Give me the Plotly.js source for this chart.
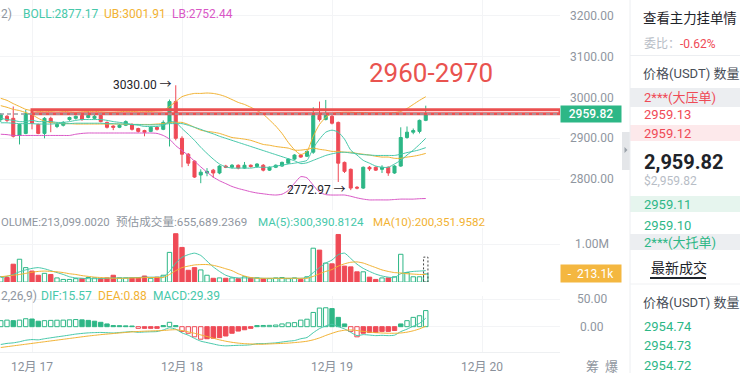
<!DOCTYPE html>
<html><head><meta charset="utf-8">
<script src="https://cdn.plot.ly/plotly-3.0.1.min.js"></script>
<style>html,body{margin:0;padding:0;background:#fff;overflow:hidden}#chart{width:740px;height:373px}</style>
</head><body><div id="chart"></div>
<script>
// ---------- data ----------
const times = [
 '2025-12-16 19:00','2025-12-16 20:00','2025-12-16 21:00','2025-12-16 22:00','2025-12-16 23:00',
 '2025-12-17 00:00','2025-12-17 01:00','2025-12-17 02:00','2025-12-17 03:00','2025-12-17 04:00','2025-12-17 05:00',
 '2025-12-17 06:00','2025-12-17 07:00','2025-12-17 08:00','2025-12-17 09:00','2025-12-17 10:00','2025-12-17 11:00',
 '2025-12-17 12:00','2025-12-17 13:00','2025-12-17 14:00','2025-12-17 15:00','2025-12-17 16:00','2025-12-17 17:00',
 '2025-12-17 18:00','2025-12-17 19:00','2025-12-17 20:00','2025-12-17 21:00','2025-12-17 22:00','2025-12-17 23:00',
 '2025-12-18 00:00','2025-12-18 01:00','2025-12-18 02:00','2025-12-18 03:00','2025-12-18 04:00','2025-12-18 05:00',
 '2025-12-18 06:00','2025-12-18 07:00','2025-12-18 08:00','2025-12-18 09:00','2025-12-18 10:00','2025-12-18 11:00',
 '2025-12-18 12:00','2025-12-18 13:00','2025-12-18 14:00','2025-12-18 15:00','2025-12-18 16:00','2025-12-18 17:00',
 '2025-12-18 18:00','2025-12-18 19:00','2025-12-18 20:00','2025-12-18 21:00','2025-12-18 22:00','2025-12-18 23:00',
 '2025-12-19 00:00','2025-12-19 01:00','2025-12-19 02:00','2025-12-19 03:00','2025-12-19 04:00','2025-12-19 05:00',
 '2025-12-19 06:00','2025-12-19 07:00','2025-12-19 08:00','2025-12-19 09:00','2025-12-19 10:00','2025-12-19 11:00',
 '2025-12-19 12:00','2025-12-19 13:00','2025-12-19 14:00','2025-12-19 15:00'
];
const open = [2946,2954,2949,2907,2912,2961,2934,2912,2949,2929, 2932,2946,2949,2956,2951,2949,2956,2939,2930,2927,
 2932,2934,2924,2919,2917,2927,2922,2939,2990,2900, 2861,2844,2810,2815,2822,2815,2832,2829,2834,2827,
 2834,2831,2834,2822,2829,2832,2839,2849,2859,2856, 2866,2956,2946,2954,2939,2841,2824,2780,2778,2829,
 2829,2824,2829,2815,2832,2902,2915,2917,2944];
const high = [2962,2957,2978,2936,2970,2968,2936,2952,2953,2937, 2942,2953,2956,2959,2968,2957,2959,2941,2932,2935,
 2944,2937,2926,2921,2930,2930,2944,2995,3030,2905, 2864,2846,2824,2827,2825,2834,2835,2837,2836,2842,
 2836,2839,2837,2831,2836,2843,2851,2861,2862,2870, 2976,2990,2994,2958,2941,2843,2826,2783,2831,2832,
 2831,2834,2831,2834,2927,2929,2924,2946,2980];
const low = [2940,2940,2902,2885,2910,2922,2910,2900,2915,2925, 2929,2943,2946,2943,2949,2946,2939,2924,2920,2925,
 2930,2919,2914,2905,2915,2919,2920,2880,2895,2829, 2832,2803,2790,2807,2803,2812,2827,2826,2824,2825,
 2828,2829,2819,2820,2827,2830,2837,2847,2852,2854, 2862,2941,2944,2934,2793,2815,2772.97,2775,2776,2820,
 2820,2815,2808,2813,2830,2899,2910,2912,2942];
const close = [2958,2944,2905,2934,2961,2937,2912,2949,2939,2934, 2939,2951,2954,2946,2956,2954,2941,2927,2927,2932,
 2941,2922,2917,2915,2927,2922,2939,2990,2900,2861, 2839,2805,2817,2819,2815,2832,2829,2834,2827,2834,
 2831,2837,2822,2829,2834,2841,2849,2859,2854,2868, 2956,2946,2956,2937,2839,2819,2778,2778,2829,2825,
 2822,2829,2815,2832,2902,2915,2919,2944,2959.82];

const bollUp = [2998,2993,2985,2978,2971,2968,2966,2965,2966,2967, 2966,2965,2964,2965,2966,2966,2965,2964,2964,2965,
 2966,2966,2965,2965,2966,2967,2968,2978,2990,3002, 3007,3010,3010,3011,3010,3007,3002,2995,2988,2983,
 2976,2968,2959,2945,2930,2912,2890,2872,2860,2868, 2905,2934,2951,2961,2963,2964,2964,2963,2963,2962,
 2962,2962,2962,2963,2966,2973,2983,2993,3001.91];
const bollMid = [2938,2938,2937,2936,2936,2936,2935,2935,2935,2936, 2936,2936,2937,2937,2937,2937,2937,2936,2936,2935,
 2935,2934,2934,2933,2933,2933,2934,2936,2936,2936, 2932,2927,2922,2916,2911,2905,2900,2895,2890,2885,
 2880,2875,2870,2865,2860,2855,2850,2845,2838,2840, 2846,2852,2858,2862,2865,2866,2864,2862,2860,2859,
 2858,2858,2858,2858,2861,2865,2868,2872,2877.17];
const bollLow = [2910,2909,2907,2907,2907,2907,2907,2907,2907,2907, 2907,2907,2910,2912,2913,2913,2913,2913,2913,2913,
 2913,2913,2913,2913,2913,2912,2907,2898,2882,2870, 2858,2844,2830,2817,2805,2796,2789,2782,2777,2773,
 2769,2766,2764,2762,2761,2763,2772,2790,2806,2803, 2785,2768,2762,2761,2761,2761,2758,2754,2751,2749,
 2749,2749,2749,2750,2751,2751,2751,2752,2752.44];
const maFast = [2949,2946,2944,2941,2941,2944,2941,2941,2941,2939, 2939,2941,2944,2946,2946,2946,2946,2944,2941,2939,
 2937,2934,2932,2929,2929,2929,2932,2941,2939,2924, 2910,2895,2878,2863,2849,2837,2830,2827,2827,2827,
 2827,2829,2829,2829,2832,2834,2837,2839,2842,2846, 2876,2898,2915,2920,2915,2898,2871,2859,2846,2839,
 2832,2829,2829,2837,2846,2859,2871,2885,2900];
const maSlow = [2980,2976,2971,2968,2963,2958,2949,2942,2939,2937, 2936,2936,2935,2935,2935,2935,2935,2935,2935,2935,
 2934,2934,2934,2934,2934,2935,2936,2938,2939,2939, 2934,2927,2920,2917,2915,2912,2907,2902,2900,2898,
 2895,2890,2885,2883,2880,2878,2876,2871,2871,2873, 2876,2873,2871,2868,2868,2866,2866,2863,2861,2859,
 2856,2854,2854,2851,2851,2854,2856,2859,2863];

const volume = [140000,120000,470000,600000,380000,290000,180000,230000,200000,110000,
 70000,70000,90000,90000,120000,110000,90000,110000,180000,110000,
 110000,110000,120000,160000,100000,130000,180000,780000,1270000,910000,
 310000,380000,320000,180000,100000,110000,100000,110000,90000,140000,
 110000,110000,90000,90000,110000,120000,90000,110000,70000,140000,
 890000,840000,500000,480000,1250000,420000,400000,270000,270000,130000,
 70000,110000,110000,140000,730000,250000,140000,140000,213099.0020];
const estVolume = 655689.2369;
const volMA5 = [120000,150000,200000,270000,320000,360000,380000,350000,300000,250000,
 200000,140000,110000,100000,90000,90000,90000,100000,110000,110000,
 110000,120000,120000,130000,130000,130000,140000,280000,500000,650000,
 720000,760000,700000,550000,400000,280000,180000,130000,110000,110000,
 110000,110000,100000,100000,100000,100000,100000,100000,100000,120000,
 250000,380000,500000,580000,720000,760000,620000,470000,360000,280000,
 210000,160000,130000,120000,220000,260000,280000,290000,300390.8124];
const volMA10 = [140000,160000,180000,200000,230000,260000,280000,290000,280000,270000,
 250000,220000,200000,170000,150000,130000,120000,110000,100000,100000,
 100000,110000,110000,120000,120000,120000,120000,200000,300000,380000,
 420000,450000,460000,460000,440000,400000,350000,300000,220000,160000,
 120000,100000,100000,100000,100000,100000,100000,100000,100000,100000,
 150000,220000,280000,330000,420000,480000,520000,530000,500000,440000,
 380000,320000,280000,250000,240000,220000,210000,200000,200351.9582];

const macd = [11,12,11,12,14.5,14,10,11,11.5,11.8, 12,12.5,13,12.5,11.5,10,8,5,2,1.8,
 1.5,1.2,-3,-3,-3,-3,2,8,2,-8.6, -12,-18.5,-22.8,-22,-21,-20,-17,-12,-8,-5.6,
 -3,2,2.2,2.4,3,5,7,7.4,12,13.6, 26,34,34.5,33,17,5,-8.6,-18.5,-12,-10.5,
 -10.5,-8.6,-8.6,-7,5,11,17,20,29.39];
const dif = [-32.5,-30.5,-29.5,-27.5,-24.8,-23.5,-24,-22,-20.3,-18.6, -17,-15.3,-13.5,-12.3,-11.3,-10.8,-10.5,-11,-11.5,-10.6,
 -9.8,-8.9,-10.3,-9.7,-9.3,-8.9,-6,-2,-4.5,-11.3, -15.5,-21.3,-26.4,-29,-31.5,-34,-35,-34.5,-34,-33.8,
 -33,-31,-30.9,-30.3,-29.5,-28,-26.5,-25.3,-22,-19.7, -11,-3.5,1.3,4.5,0,-4,-10.3,-16.3,-14.5,-15.3,
 -16.3,-15.8,-16.3,-15.5,-9,-4.5,1,6,15.57];
const dea = [-38,-36.5,-35,-33.5,-32,-30.5,-29,-27.5,-26,-24.5, -23,-21.5,-20,-18.5,-17,-15.8,-14.5,-13.5,-12.5,-11.5,
 -10.5,-9.5,-8.8,-8.2,-7.8,-7.4,-7,-6,-5.5,-7, -9.5,-12,-15,-18,-21,-24,-26.5,-28.5,-30,-31,
 -31.5,-32,-32,-31.5,-31,-30.5,-30,-29,-28,-26.5, -24,-20.5,-16,-12,-8.5,-6.5,-6,-7,-8.5,-10,
 -11,-11.5,-12,-12,-11.5,-10,-7.5,-4,0.88];

const zoneLow = 2960, zoneHigh = 2970, zoneStart = '2025-12-17 00:00';
const priceTicks = [2800,2900,3000,3100,3200];
const volTicks = [1000000], volTickText = ['1.00M'];
const macdTicks = [0,50];
const dayTicks = ['2025-12-17 00:00','2025-12-18 00:00','2025-12-19 00:00','2025-12-20 00:00'];
const dayLabels = ['12月 17','12月 18','12月 19','12月 20'];
const xRange = ['2025-12-16 18:52:48','2025-12-20 12:28:48'];

// order-book panel values
const askRows = ['2959.13','2959.12'];
const bidRows = ['2959.11','2959.10'];
const tradeRows = ['2954.74','2954.73','2954.72'];
const lastPrice = '2,959.82', lastPriceUsd = '$2,959.82', weibi = '-0.62%';

// ---------- style ----------
const FONT = "Roboto, 'Noto Sans CJK SC', sans-serif";
const G='#2db786', R='#ef4a56', TEAL='#46c8aa', ORANGE='#f2b232', PINK='#d957c6', GREY='#8f96a0', DARK='#1e2329';
const GRID='#f3f4f6';
const PW=560, PH=352;
const px = x => x/PW, py = y => 1 - y/PH;
const HOUR = 3600e3, BAR_W = 0.7*HOUR;
const toMs = s => Date.parse(s.replace(' ','T') + (s.length > 16 ? 'Z' : ':00Z'));
const n = close.length;
const isUp = close.map((c,i)=> c >= open[i]);

// ---------- traces ----------
const line = (y, color, ya) => ({type:'scatter', mode:'lines', x:times, y, xaxis:'x', yaxis:ya,
  line:{color, width:1, shape:'spline', smoothing:0.6}, hoverinfo:'skip'});

const traces = [
 {type:'candlestick', x:times, open, high, low, close, xaxis:'x', yaxis:'y', whiskerwidth:0,
  increasing:{line:{color:G,width:1}, fillcolor:G}, decreasing:{line:{color:R,width:1}, fillcolor:R}, hoverinfo:'skip'},
 line(maSlow, ORANGE, 'y'),
 line(bollUp, ORANGE, 'y'),
 line(bollLow, PINK, 'y'),
 line(bollMid, TEAL, 'y'),
 line(maFast, TEAL, 'y'),
 {type:'bar', x:times, y:volume, xaxis:'x', yaxis:'y2', width:BAR_W,
  marker:{color:isUp.map(u=>u?'#ffffff':R), line:{color:isUp.map(u=>u?G:R), width:1}}, hoverinfo:'skip'},
 line(volMA5, TEAL, 'y2'),
 line(volMA10, ORANGE, 'y2'),
 {type:'bar', x:times, y:macd, xaxis:'x', yaxis:'y3', width:BAR_W,
  marker:{color:macd.map((v,i)=>{const hollow = i===0 || Math.abs(v) > Math.abs(macd[i-1]); return hollow ? '#ffffff' : (v>=0?G:R);}),
          line:{color:macd.map(v=>v>=0?G:R), width:1}}, hoverinfo:'skip'},
 line(dif, TEAL, 'y3'),
 line(dea, ORANGE, 'y3')
];

// ---------- annotations ----------
const fmt4 = v => v.toLocaleString('en-US',{minimumFractionDigits:4, maximumFractionDigits:4});
const T = (x, y, text, color, size, extra) => Object.assign({xref:'paper', yref:'paper', x:px(x), y:py(y), text,
  showarrow:false, xanchor:'left', yanchor:'middle', borderpad:0, font:{family:FONT, size, color}}, extra||{});

const ann = [];
// indicator legends
ann.push(T(0,14,'2)',GREY,12));
ann.push(T(22,14,'BOLL:'+bollMid[n-1].toFixed(2),TEAL,12));
ann.push(T(103,14,'UB:'+bollUp[n-1].toFixed(2),ORANGE,12));
ann.push(T(171,14,'LB:'+bollLow[n-1].toFixed(2),PINK,12));
ann.push(T(0,222,'OLUME:'+fmt4(volume[n-1]),GREY,11.3));
ann.push(T(115,222,'预估成交量:'+fmt4(estVolume),GREY,11.6));
ann.push(T(257,222,'MA(5):'+fmt4(volMA5[n-1]),TEAL,11.6));
ann.push(T(372,222,'MA(10):'+fmt4(volMA10[n-1]),ORANGE,11.6));
ann.push(T(0,296,'2,26,9)',GREY,12));
ann.push(T(40,296,'DIF:'+dif[n-1].toFixed(2),TEAL,12));
ann.push(T(97,296,'DEA:'+dea[n-1].toFixed(2),ORANGE,12));
ann.push(T(152,296,'MACD:'+macd[n-1].toFixed(2),TEAL,12));

// high / low markers
const hiV = Math.max(...high), hiI = high.indexOf(hiV);
const loV = Math.min(...low), loI = low.indexOf(loV);
ann.push({xref:'x', yref:'y', x:times[hiI], y:hiV, text:hiV.toFixed(2)+' →', showarrow:false, xanchor:'right', yanchor:'middle', xshift:-2, font:{family:FONT,size:12,color:DARK}});
ann.push({xref:'x', yref:'y', x:times[loI], y:loV, text:loV.toFixed(2)+' →', showarrow:false, xanchor:'right', yanchor:'middle', xshift:-3, font:{family:FONT,size:12,color:DARK}});
// zone label
ann.push(T(431,73,zoneLow+'-'+zoneHigh,'#e9534f',26,{xanchor:'center'}));

// right axis labels
priceTicks.forEach(v=>ann.push({xref:'paper', yref:'y', x:px(592), y:v, text:v.toFixed(2), showarrow:false, xanchor:'center', yanchor:'middle', font:{family:FONT,size:12,color:GREY}}));
volTicks.forEach((v,i)=>ann.push({xref:'paper', yref:'y2', x:px(592), y:v, text:volTickText[i], showarrow:false, xanchor:'center', yanchor:'middle', font:{family:FONT,size:12,color:GREY}}));
macdTicks.forEach(v=>ann.push({xref:'paper', yref:'y3', x:px(592), y:v, text:v.toFixed(2), showarrow:false, xanchor:'center', yanchor:'middle', font:{family:FONT,size:12,color:GREY}}));
// badges
ann.push({xref:'paper', yref:'y', x:1, y:close[n-1], text:close[n-1].toFixed(2), showarrow:false, xanchor:'left', yanchor:'middle',
  width:58, height:14, bgcolor:G, borderpad:1, align:'center', font:{family:FONT,size:12,color:'#fff', weight:500}});
ann.push({xref:'paper', yref:'y2', x:1, y:volume[n-1], text:'-  '+(volume[n-1]/1000).toFixed(1)+'k', showarrow:false, xanchor:'left', yanchor:'middle',
  width:58, height:15, bgcolor:'#f4b740', borderpad:1, align:'center', font:{family:FONT,size:12,color:'#fff'}});
// bottom-right icons
ann.push(T(592,366,'筹',GREY,13,{xanchor:'center'}));
ann.push(T(612,366,'爆',GREY,13,{xanchor:'center'}));

// order-book panel
ann.push(T(642,18,'查看主力挂单情',DARK,13.4));
ann.push(T(643,44,"<span style='color:#b7bdc6'>委比：</span>"+weibi,R,12));
ann.push(T(642,73,'价格(USDT) 数量','#474d57',13));
ann.push(T(643,97,'2***(大压单)',R,13));
ann.push(T(643,114,askRows[0],R,13));
ann.push(T(643,133,askRows[1],R,13));
ann.push(T(643,162,'<b>'+lastPrice+'</b>',DARK,20));
ann.push(T(643,181,lastPriceUsd,'#b7bdc6',12));
ann.push(T(643,204,bidRows[0],G,13));
ann.push(T(643,225,bidRows[1],G,13));
ann.push(T(643,242,'2***(大托单)',G,13));
ann.push(T(650,268,'最新成交',DARK,14));
ann.push(T(642,302,'价格(USDT) 数量','#474d57',13));
tradeRows.forEach((v,i)=>ann.push(T(643,326+i*19.5,v,G,13)));

// ---------- shapes ----------
const P = (x0,y0,x1,y1,fill) => ({type:'rect', xref:'paper', yref:'paper', x0:px(x0), x1:px(x1), y0:py(y1), y1:py(y0), fillcolor:fill, line:{width:0}, layer:'below'});
const L = (x0,y0,x1,y1,color,w) => ({type:'line', xref:'paper', yref:'paper', x0:px(x0), x1:px(x1), y0:py(y0), y1:py(y1), line:{color, width:w||1}});
const lastMs = toMs(times[n-1]);
const shapes = [
 {type:'rect', xref:'x', yref:'y', x0:zoneStart, x1:xRange[1], y0:zoneLow, y1:zoneHigh, line:{color:'#eb5050', width:3}},
 {type:'line', xref:'paper', yref:'y', x0:0, x1:1, y0:close[n-1], y1:close[n-1], line:{color:'#9aa0a8', width:1.5, dash:'4px,3px'}},
 {type:'rect', xref:'x', yref:'y2', x0:lastMs-BAR_W/2, x1:lastMs+BAR_W/2, y0:0, y1:estVolume, line:{color:'#444', width:1, dash:'2px,2px'}},
 // panel
 L(630,0,630,373,'#eceef1',1),
 L(630,55.5,740,55.5,'#eceef1',1),
 P(630,88,740,107,'#eceef1'),
 P(630,125,740,141,'#fde9eb'),
 P(630,196,740,212,'#e6f5ee'),
 P(630,234,740,250,'#eceef1'),
 L(650,278,706,278,DARK,2),
 L(630,284,740,284,'#f0f1f3',1),
 {type:'rect', xref:'paper', yref:'paper', x0:px(622), x1:px(630), y0:py(170), y1:py(132), fillcolor:'#e4e6e9', line:{width:0}, layer:'below'},
 {type:'path', xref:'paper', yref:'paper', path:`M ${px(624.5)} ${py(147)} L ${px(627.5)} ${py(150)} L ${px(624.5)} ${py(153)} Z`, fillcolor:'#9aa1a9', line:{width:0}}
];

const layout = {
 width:740, height:373, margin:{l:0,r:180,t:0,b:21,pad:0},
 paper_bgcolor:'#fff', plot_bgcolor:'#fff', showlegend:false, font:{family:FONT},
 xaxis:{type:'date', range:xRange, tickvals:dayTicks, ticktext:dayLabels, showgrid:true, gridcolor:GRID, zeroline:false,
   showline:true, linecolor:'#eef0f2', ticks:'', ticklabelstandoff:4, tickfont:{family:FONT,size:12,color:'#8a919b'},
   anchor:'y3', rangeslider:{visible:false}, fixedrange:true},
 yaxis:{domain:[1-210/PH,1], range:[2724.3,3239], tickvals:priceTicks, showticklabels:false, showgrid:true, gridcolor:GRID, zeroline:false, anchor:'x', fixedrange:true},
 yaxis2:{domain:[1-282.1/PH,1-228/PH], range:[0,1.42e6], tickvals:volTicks, showticklabels:false, showgrid:true, gridcolor:GRID, zeroline:false, anchor:'x', fixedrange:true},
 yaxis3:{domain:[0,1-296/PH], range:[-46.2,56], tickvals:macdTicks, showticklabels:false, showgrid:true, gridcolor:GRID, zeroline:false, anchor:'x', fixedrange:true},
 shapes, annotations:ann
};
Plotly.newPlot('chart', traces, layout, {staticPlot:true, displayModeBar:false});
</script>
</body></html>
